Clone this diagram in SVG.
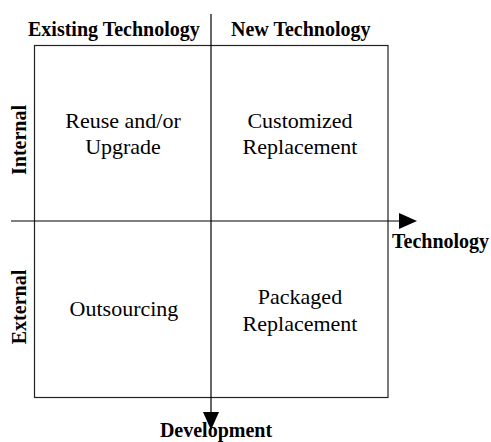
<svg xmlns="http://www.w3.org/2000/svg" width="491" height="442" viewBox="0 0 491 442">
<style>
.hdr{font-family:"Liberation Serif","Times New Roman",serif;font-weight:bold;font-size:20px;fill:#000}
.q{font-family:"Liberation Serif","Times New Roman",serif;font-size:22px;fill:#000;text-anchor:middle}
.ax{stroke:#000;stroke-width:1.2;fill:none}
.box{stroke:#222;stroke-width:1.2;fill:none}
</style>
<defs>
<marker id="arr" viewBox="0 0 18 16" refX="0" refY="8" markerWidth="18" markerHeight="16" markerUnits="userSpaceOnUse" orient="auto">
<path d="M0,0 L18,8 L0,16 Z" fill="#000"/>
</marker>
</defs>
<rect id="grid" class="box" x="34.5" y="45.5" width="353.5" height="352"/>
<g id="connectors">
<line class="ax" x1="11" y1="221" x2="399" y2="221" marker-end="url(#arr)"/>
<line class="ax" x1="211" y1="14" x2="211" y2="412" marker-end="url(#arr)"/>
</g>
<g id="hdr-existing"><text class="hdr" x="28" y="36">Existing Technology</text></g>
<g id="hdr-new"><text class="hdr" x="231" y="36">New Technology</text></g>
<g id="lbl-internal"><text class="hdr" text-anchor="middle" transform="translate(26,140) rotate(-90)">Internal</text></g>
<g id="lbl-external"><text class="hdr" text-anchor="middle" transform="translate(26,307) rotate(-90)">External</text></g>
<g id="lbl-technology"><text class="hdr" x="392" y="248">Technology</text></g>
<g id="lbl-development"><text class="hdr" text-anchor="middle" x="216" y="437">Development</text></g>
<g id="q-reuse"><text class="q" x="123" y="128">Reuse and/or</text><text class="q" x="123" y="154">Upgrade</text></g>
<g id="q-custom"><text class="q" x="300" y="128">Customized</text><text class="q" x="300" y="154">Replacement</text></g>
<g id="q-outsourcing"><text class="q" x="124" y="316">Outsourcing</text></g>
<g id="q-packaged"><text class="q" x="300" y="304">Packaged</text><text class="q" x="300" y="331">Replacement</text></g>
</svg>
